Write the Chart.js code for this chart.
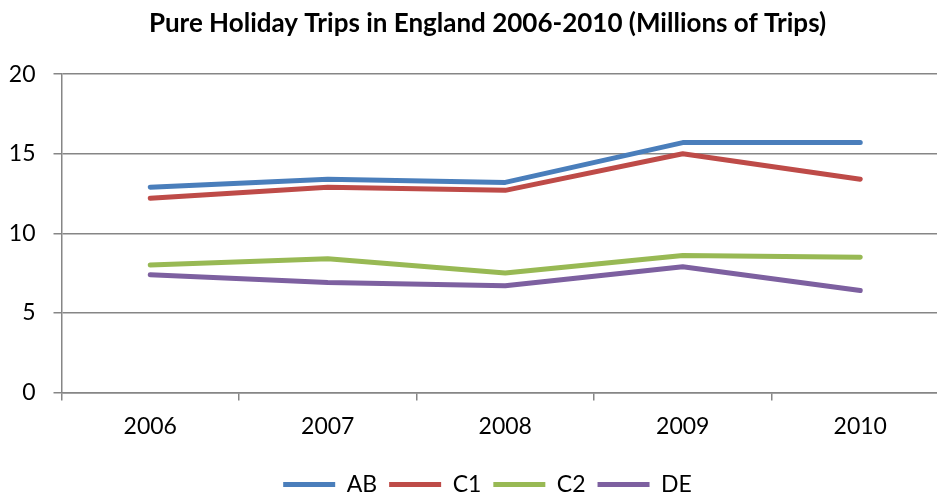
<!DOCTYPE html>
<html>
<head>
<meta charset="utf-8">
<script src="https://cdn.jsdelivr.net/npm/chart.js@4/dist/chart.umd.min.js"></script>
<style>
  html, body { margin: 0; padding: 0; background: #fff; overflow: hidden; }
  #wrap { position: absolute; left: 0; top: 0; width: 970px; height: 494px; }
</style>
</head>
<body>
<div id="wrap"><canvas id="trips-chart"></canvas></div>
<script>
const years = ['2006', '2007', '2008', '2009', '2010'];
const abTrips = [12.9, 13.4, 13.2, 15.7, 15.7];
const c1Trips = [12.2, 12.9, 12.7, 15.0, 13.4];
const c2Trips = [8.0, 8.4, 7.5, 8.6, 8.5];
const deTrips = [7.4, 6.9, 6.7, 7.9, 6.4];

const seriesNames = ['AB', 'C1', 'C2', 'DE'];
const seriesColors = ['#4a7ebb', '#be4b48', '#98b954', '#7d60a0'];

const axisGrey = '#868686';
const font = 'Lato, "Open Sans", sans-serif';

const datasets = [abTrips, c1Trips, c2Trips, deTrips].map((values, i) => ({
    label: seriesNames[i],
    data: values,
    borderColor: seriesColors[i],
    backgroundColor: seriesColors[i],
    borderWidth: 5,
    borderCapStyle: 'round',
    borderJoinStyle: 'round',
    pointRadius: 0,
    pointHoverRadius: 0,
    tension: 0,
    pointStyle: 'line'
}));

// y labels sit left of the layout padding, so let them draw there
const yLabelRoom = {
    id: 'yLabelRoom',
    afterLayout(chart) { chart.scales.y.left = 0; }
};

const ctx = document.getElementById('trips-chart').getContext('2d');
new Chart(ctx, {
    type: 'line',
    data: { labels: years, datasets },
    plugins: [yLabelRoom],
    options: {
        responsive: true,
        maintainAspectRatio: false,
        animation: false,
        layout: { padding: { left: 26, right: 21, top: 8, bottom: -12 } },
        plugins: {
            title: {
                display: true,
                text: 'Pure Holiday Trips in England 2006-2010 (Millions of Trips)',
                color: '#000',
                font: { family: font, size: 26, weight: 'bold' },
                padding: { top: 0, bottom: 35 }
            },
            legend: {
                position: 'bottom',
                labels: {
                    usePointStyle: true,
                    pointStyleWidth: 52,
                    color: '#000',
                    font: { family: font, size: 23 },
                    padding: 12
                }
            },
            tooltip: { enabled: false }
        },
        scales: {
            x: {
                offset: true,
                grid: {
                    offset: true,
                    drawOnChartArea: false,
                    color: axisGrey,
                    lineWidth: 1.5,
                    tickLength: 8
                },
                border: { color: axisGrey, width: 1.5 },
                ticks: {
                    color: '#000',
                    font: { family: font, size: 23 },
                    padding: 12
                },
                afterFit(scale) { scale.height += 9; }
            },
            y: {
                min: 0,
                max: 20,
                ticks: {
                    stepSize: 5,
                    color: '#000',
                    font: { family: font, size: 23 },
                    padding: 18
                },
                grid: { color: axisGrey, lineWidth: 1.5, tickLength: 8 },
                border: { color: axisGrey, width: 1.5 },
                afterFit(scale) { scale.width = 35.5; }
            }
        }
    }
});
</script>
</body>
</html>
